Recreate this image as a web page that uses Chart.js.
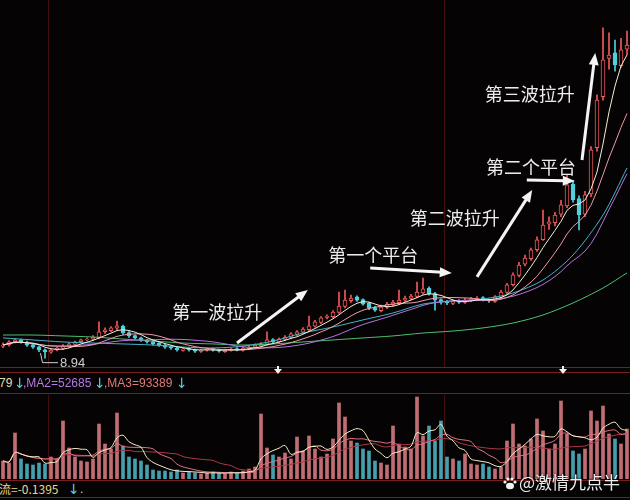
<!DOCTYPE html>
<html lang="zh-CN">
<head>
<meta charset="UTF-8">
<title>三波拉升</title>
<script src="https://cdn.jsdelivr.net/npm/chart.js"></script>
<style>
    body { margin: 0; background: #050303; width: 630px; height: 500px; overflow: hidden; position: relative; font-family: "Liberation Sans", Arial, sans-serif; }
    canvas { position: absolute; left: 0; }
    #price { top: 0; }
    #vol { top: 395px; }
    .hline { position: absolute; left: 0; width: 630px; height: 1px; background: #7a1d1d; }
    .t { position: absolute; white-space: nowrap; font-size: 12px; line-height: 16px; }
    .dn { position: absolute; color: #5ccfe6; font-size: 14px; line-height: 16px; font-family: "DejaVu Sans", sans-serif; }
    .mark { position: absolute; top: 366px; }
    #wm { position: absolute; left: 503px; top: 469px; color: rgba(255,255,255,0.92); font: 17px "Noto Sans CJK SC", sans-serif; text-shadow: 0 0 3px #000; white-space: nowrap; }
</style>
</head>
<body>
<canvas id="price" width="630" height="368"></canvas>
<canvas id="vol" width="630" height="84"></canvas>

<div class="hline" style="top:367px"></div>
<div class="hline" style="top:372px"></div>
<div class="hline" style="top:393px"></div>
<div class="hline" style="top:480px"></div>
<div class="hline" style="top:497px"></div>

<!-- event markers under the price panel -->
<svg class="mark" style="left:274px" width="8" height="8"><path d="M4 8 L0 3 L3 3 L3 0 L5 0 L5 3 L8 3 Z" fill="#f0f0f0"/></svg>
<svg class="mark" style="left:559px" width="8" height="8"><path d="M4 8 L0 3 L3 3 L3 0 L5 0 L5 3 L8 3 Z" fill="#f0f0f0"/></svg>

<!-- volume legend strip -->
<span class="t" style="left:-1px;top:375px;color:#e6dcae">79</span>
<span class="dn" style="left:14px;top:375px">↓</span>
<span class="t" style="left:23px;top:375px;color:#b67ae6">,MA2=52685</span>
<span class="dn" style="left:94px;top:375px">↓</span>
<span class="t" style="left:104px;top:375px;color:#e07a76">,MA3=93389</span>
<span class="dn" style="left:176px;top:375px">↓</span>

<!-- bottom indicator strip -->
<span class="t" style="left:-13px;top:481px;color:#e8d890;font-family:'Noto Sans CJK SC',sans-serif">净流=-0.1395</span>
<span class="dn" style="left:68px;top:481px">↓</span>
<span class="t" style="left:80px;top:481px;color:#d8d8d8">.</span>

<div id="wm"><svg width="14" height="14" style="vertical-align:-1px;margin-right:2px"><g fill="#f4f4f4"><ellipse cx="7" cy="10" rx="4" ry="3.2"/><circle cx="2" cy="6" r="1.6"/><circle cx="5" cy="3" r="1.6"/><circle cx="9" cy="3" r="1.6"/><circle cx="12" cy="6" r="1.6"/></g></svg>@激情九点半</div>

<script>
    // daily candles (price)
    const opens = [
        9.60, 9.68, 9.85, 9.95, 9.82, 9.68, 9.56, 9.40, 9.27, 9.40,
        9.48, 9.62, 9.70, 9.85, 9.96, 9.98, 10.08, 10.40, 10.45, 10.58,
        10.70, 10.35, 10.18, 10.06, 9.92, 9.85, 9.75, 9.64, 9.58, 9.49,
        9.37, 9.46, 9.40, 9.31, 9.38, 9.46, 9.40, 9.30, 9.37, 9.47,
        9.38, 9.48, 9.54, 9.62, 9.70, 9.96, 9.82, 9.97, 10.08, 10.25,
        10.36, 10.50, 10.70, 10.90, 11.18, 11.22, 11.45, 11.78, 12.10, 12.30,
        12.15, 11.95, 11.72, 11.55, 11.72, 11.88, 11.98, 12.12, 12.22, 12.33,
        12.52, 12.78, 12.48, 12.15, 12.06, 11.95, 12.10, 12.00, 12.10, 12.16,
        12.27, 12.16, 12.06, 12.28, 12.55, 12.98, 13.48, 14.10, 14.40, 14.90,
        15.45, 16.30, 16.38, 16.85, 17.30, 18.50, 17.70, 16.85, 17.95, 20.50,
        23.30, 25.40, 25.70, 25.00, 25.90
    ];
    const closes = [
        9.66, 9.83, 9.94, 9.83, 9.66, 9.55, 9.39, 9.28, 9.39, 9.50,
        9.61, 9.72, 9.83, 9.94, 9.99, 10.10, 10.38, 10.49, 10.60, 10.71,
        10.32, 10.16, 10.05, 9.94, 9.83, 9.72, 9.66, 9.55, 9.50, 9.39,
        9.44, 9.39, 9.33, 9.39, 9.44, 9.39, 9.33, 9.39, 9.44, 9.39,
        9.50, 9.55, 9.66, 9.72, 9.94, 9.83, 9.99, 10.10, 10.27, 10.38,
        10.54, 10.71, 10.93, 11.15, 11.25, 11.47, 11.80, 12.13, 12.24, 12.13,
        11.91, 11.69, 11.58, 11.75, 11.91, 12.02, 12.13, 12.24, 12.35, 12.57,
        12.74, 12.46, 12.13, 12.02, 11.97, 12.08, 12.02, 12.13, 12.19, 12.24,
        12.13, 12.08, 12.30, 12.57, 12.96, 13.51, 14.05, 14.44, 14.88, 15.43,
        16.25, 16.42, 16.80, 17.35, 18.45, 17.62, 16.80, 17.90, 20.37, 23.11,
        25.31, 25.58, 25.03, 25.86, 26.13
    ];
    const highs = [
        9.78, 9.90, 10.02, 9.99, 9.88, 9.72, 9.60, 9.45, 9.44, 9.55,
        9.68, 9.78, 9.88, 9.99, 10.05, 10.18, 10.93, 10.60, 10.68, 10.98,
        10.75, 10.40, 10.22, 10.10, 9.98, 9.90, 9.80, 9.70, 9.62, 9.54,
        9.50, 9.50, 9.44, 9.44, 9.50, 9.50, 9.44, 9.44, 9.50, 9.52,
        9.56, 9.62, 9.72, 9.80, 10.38, 10.02, 10.05, 10.18, 10.35, 10.45,
        10.62, 11.25, 11.02, 11.22, 11.32, 11.55, 12.57, 12.68, 12.40, 12.36,
        12.20, 12.00, 11.78, 11.85, 12.00, 12.12, 12.68, 12.35, 12.45, 13.12,
        13.34, 12.85, 12.55, 12.20, 12.12, 12.15, 12.16, 12.22, 12.28, 12.32,
        12.32, 12.20, 12.38, 12.66, 13.05, 13.62, 14.20, 14.60, 14.98, 15.60,
        17.07, 16.70, 16.95, 17.60, 19.00, 18.70, 17.85, 18.10, 20.55, 23.40,
        27.07, 26.80, 26.40, 26.50, 26.90
    ];
    const lows = [
        9.52, 9.60, 9.78, 9.76, 9.58, 9.48, 9.30, 8.94, 9.20, 9.34,
        9.42, 9.55, 9.64, 9.78, 9.88, 9.92, 10.00, 10.30, 10.40, 10.50,
        10.25, 10.08, 9.98, 9.86, 9.76, 9.66, 9.58, 9.48, 9.42, 9.32,
        9.32, 9.33, 9.26, 9.26, 9.33, 9.33, 9.27, 9.25, 9.33, 9.34,
        9.33, 9.42, 9.50, 9.58, 9.64, 9.76, 9.78, 9.92, 10.02, 10.18,
        10.30, 10.44, 10.64, 10.84, 11.10, 11.16, 11.40, 11.70, 12.00, 12.05,
        11.85, 11.60, 11.50, 11.48, 11.66, 11.82, 11.92, 12.05, 12.15, 12.26,
        12.45, 12.40, 11.58, 11.90, 11.88, 11.88, 11.95, 11.94, 12.04, 12.10,
        12.08, 12.00, 12.00, 12.20, 12.48, 12.90, 13.40, 14.00, 14.30, 14.80,
        15.40, 16.00, 16.20, 16.70, 17.20, 17.50, 15.98, 16.70, 17.80, 20.30,
        23.10, 24.80, 24.70, 24.90, 25.60
    ];
    const volumes = [
        27000, 24000, 69000, 30000, 22500, 21000, 24000, 22500, 33000, 30000,
        87000, 46500, 33000, 27000, 25500, 30000, 82500, 52500, 45000, 99000,
        49500, 33000, 30000, 27000, 21000, 13500, 12000, 12000, 10500, 13500,
        9000, 10500, 9000, 7500, 9000, 10500, 9000, 7500, 10500, 9000,
        12000, 15000, 18000, 97500, 46500, 36000, 33000, 39000, 30000, 63000,
        42000, 64500, 45000, 33000, 37500, 60000, 114000, 93000, 57000, 54000,
        45000, 42000, 27000, 24000, 21000, 79500, 52500, 48000, 45000, 123000,
        64500, 79500, 57000, 87000, 33000, 30000, 27000, 37500, 22500, 21000,
        22500, 18000, 15000, 18000, 57000, 82500, 52500, 49500, 60000, 90000,
        72000, 45000, 52500, 117000, 67500, 42000, 37500, 45000, 102000, 87000,
        109500, 67500, 60000, 52500, 75000
    ];
    // long moving averages: [candle index, value]
    const ma60Points = [
        [0, 10.05], [5, 9.94], [10, 9.83], [15, 9.77], [20, 9.72], [25, 9.66], [30, 9.55],
        [35, 9.50], [40, 9.60], [45, 9.88], [50, 10.32], [55, 10.65], [60, 11.04], [65, 11.42],
        [70, 11.91], [75, 12.08], [80, 12.19], [85, 12.52], [90, 13.23], [95, 14.60], [100, 16.80], [104, 19.38]
    ];
    const ma120Points = [
        [0, 10.21], [5, 10.21], [10, 10.16], [15, 10.10], [20, 9.99], [25, 9.88], [30, 9.77],
        [35, 9.72], [40, 9.66], [45, 9.72], [50, 9.83], [55, 9.94], [60, 10.05], [65, 10.16],
        [70, 10.32], [75, 10.43], [80, 10.60], [85, 10.87], [90, 11.31], [95, 11.97], [100, 12.79], [104, 13.62]
    ];
    // annotations anchored at [candle index, price]
    const waveLabels = [
        { text: '第一波拉升', at: [35.7, 11.47] },
        { text: '第一个平台', at: [61.7, 14.60] },
        { text: '第二波拉升', at: [75.3, 16.64] },
        { text: '第二个平台', at: [88.0, 19.43] },
        { text: '第三波拉升', at: [87.8, 23.44] }
    ];
    const waveArrows = [
        { from: [39.0, 9.77], to: [50.8, 12.68] },
        { from: [61.2, 13.89], to: [74.8, 13.62] },
        { from: [79.0, 13.40], to: [88.2, 18.17] },
        { from: [87.3, 18.72], to: [95.3, 18.67] },
        { from: [96.5, 19.82], to: [98.7, 25.69] }
    ];
    const periodBreaks = [7.5, 73.5];
    const lowMarkIndex = 7;

    const days = closes.map((_, i) => String(i + 1));
    const upColor = '#f05a5a';
    const downColor = '#4fd0dc';
    const isUp = i => closes[i] >= opens[i];

    function movingAvg(src, n) {
        return src.map((_, i) => {
            const win = src.slice(Math.max(0, i - n + 1), i + 1);
            return win.reduce((a, b) => a + b, 0) / win.length;
        });
    }
    const toPoints = pts => pts.map(([i, v]) => ({ x: days[i], y: v }));

    function line(label, data, color, tension) {
        return { type: 'line', label: label, data: data, borderColor: color, borderWidth: 1,
                 pointRadius: 0, tension: tension || 0, order: 0 };
    }

    const breaksPlugin = {
        id: 'breaks',
        beforeDatasetsDraw(chart) {
            const { ctx, chartArea, scales } = chart;
            ctx.save();
            ctx.strokeStyle = 'rgba(95,22,22,0.7)';
            ctx.lineWidth = 1;
            periodBreaks.forEach(b => {
                const px = Math.round(scales.x.getPixelForValue(b)) + 0.5;
                ctx.beginPath();
                ctx.moveTo(px, chartArea.top);
                ctx.lineTo(px, chartArea.bottom);
                ctx.stroke();
            });
            ctx.restore();
        }
    };

    const notesPlugin = {
        id: 'notes',
        afterDatasetsDraw(chart) {
            const { ctx, scales: { x, y } } = chart;
            ctx.save();
            // arrows
            ctx.strokeStyle = '#f4f4f4';
            ctx.fillStyle = '#f4f4f4';
            ctx.lineWidth = 3;
            waveArrows.forEach(a => {
                const x1 = x.getPixelForValue(a.from[0]), y1 = y.getPixelForValue(a.from[1]);
                const x2 = x.getPixelForValue(a.to[0]), y2 = y.getPixelForValue(a.to[1]);
                const ang = Math.atan2(y2 - y1, x2 - x1);
                const head = 12;
                ctx.beginPath();
                ctx.moveTo(x1, y1);
                ctx.lineTo(x2 - head * 0.8 * Math.cos(ang), y2 - head * 0.8 * Math.sin(ang));
                ctx.stroke();
                ctx.beginPath();
                ctx.moveTo(x2, y2);
                ctx.lineTo(x2 - head * Math.cos(ang) + 5 * Math.sin(ang), y2 - head * Math.sin(ang) - 5 * Math.cos(ang));
                ctx.lineTo(x2 - head * Math.cos(ang) - 5 * Math.sin(ang), y2 - head * Math.sin(ang) + 5 * Math.cos(ang));
                ctx.closePath();
                ctx.fill();
            });
            // labels
            ctx.font = '18px "Noto Sans CJK SC", sans-serif';
            ctx.textAlign = 'center';
            ctx.textBaseline = 'middle';
            ctx.fillStyle = '#ececec';
            waveLabels.forEach(l => {
                ctx.fillText(l.text, x.getPixelForValue(l.at[0]), y.getPixelForValue(l.at[1]));
            });
            // lowest price mark
            const lx = x.getPixelForValue(lowMarkIndex), ly = y.getPixelForValue(lows[lowMarkIndex]);
            ctx.strokeStyle = '#cfcfcf';
            ctx.lineWidth = 1;
            ctx.beginPath();
            ctx.moveTo(lx - 4.5, ly - 5);
            ctx.lineTo(lx - 2.5, ly + 4.5);
            ctx.lineTo(lx + 13, ly + 4.5);
            ctx.stroke();
            ctx.font = '13px "Liberation Sans", Arial, sans-serif';
            ctx.textAlign = 'left';
            ctx.fillStyle = '#cfcfcf';
            ctx.fillText(lows[lowMarkIndex].toFixed(2), lx + 15, ly + 5);
            ctx.restore();
        }
    };

    const baseOptions = {
        responsive: false,
        animation: false,
        events: [],
        layout: { padding: 0 },
        plugins: { legend: { display: false }, tooltip: { enabled: false } }
    };

    new Chart(document.getElementById('price'), {
        type: 'bar',
        data: {
            labels: days,
            datasets: [
                line('MA5', movingAvg(closes, 5), '#f3eed6'),
                line('MA10', movingAvg(closes, 10), '#ee9aa8'),
                line('MA20', movingAvg(closes, 20), '#b274e0'),
                line('MA60', toPoints(ma60Points), '#41b6c8', 0.3),
                line('MA120', toPoints(ma120Points), '#4cc070', 0.3),
                {
                    label: '实体',
                    data: opens.map((o, i) => [o, closes[i]]),
                    grouped: false,
                    barThickness: 4,
                    backgroundColor: c => isUp(c.dataIndex) ? '#050303' : downColor,
                    borderColor: c => isUp(c.dataIndex) ? upColor : downColor,
                    borderWidth: 1,
                    borderSkipped: false,
                    order: 1
                },
                {
                    label: '影线',
                    data: lows.map((l, i) => [l, highs[i]]),
                    grouped: false,
                    barThickness: 1,
                    backgroundColor: c => isUp(c.dataIndex) ? upColor : downColor,
                    order: 2
                }
            ]
        },
        options: Object.assign({}, baseOptions, {
            scales: {
                x: { display: false, offset: true },
                y: { display: false, min: 8.4, max: 28.6 }
            }
        }),
        plugins: [breaksPlugin, notesPlugin]
    });

    new Chart(document.getElementById('vol'), {
        type: 'bar',
        data: {
            labels: days,
            datasets: [
                line('VMA5', movingAvg(volumes, 5), '#f2eec4', 0.3),
                line('VMA10', movingAvg(volumes, 10), '#e07080', 0.3),
                line('VMA20', movingAvg(volumes, 20), '#a83848', 0.3),
                {
                    label: '成交量',
                    data: volumes,
                    barThickness: 3,
                    backgroundColor: c => isUp(c.dataIndex) ? 'rgba(226,128,136,0.85)' : 'rgba(80,188,206,0.85)',
                    order: 1
                }
            ]
        },
        options: Object.assign({}, baseOptions, {
            scales: {
                x: { display: false, offset: true },
                y: { display: false, min: 0, max: 126000 }
            }
        }),
        plugins: [breaksPlugin]
    });
</script>
</body>
</html>
